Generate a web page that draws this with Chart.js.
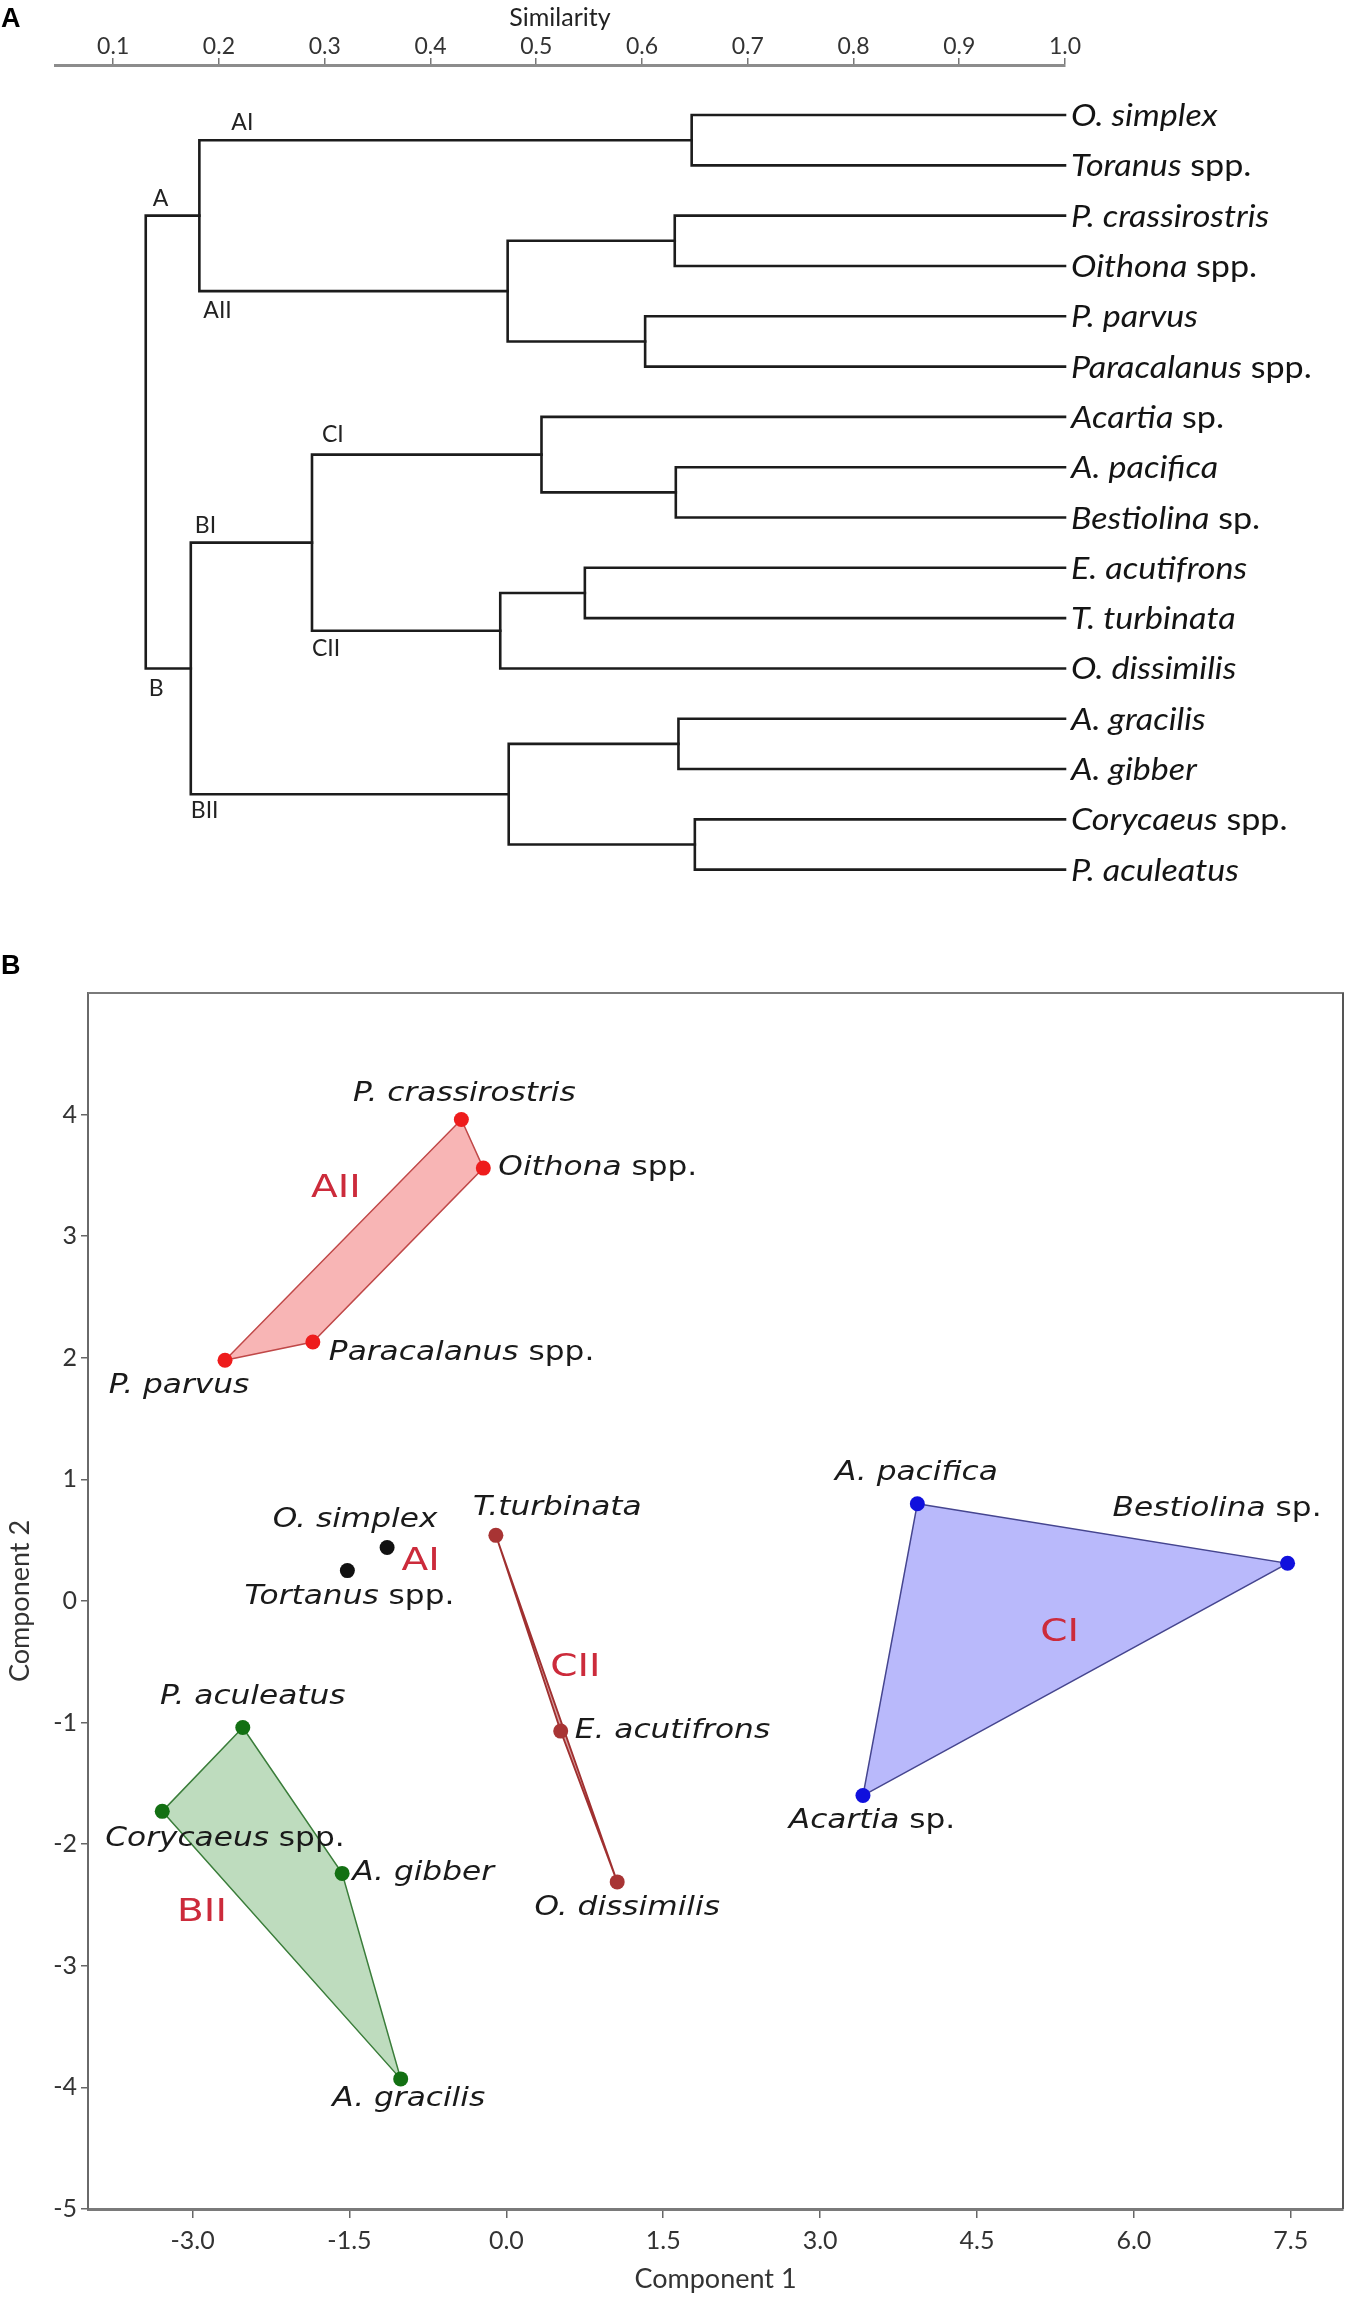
<!DOCTYPE html>
<html><head><meta charset="utf-8">
<script src="https://cdn.jsdelivr.net/npm/chart.js@4"></script>
<style>
html,body{margin:0;padding:0;background:#fff;}
#wrap{position:relative;width:1368px;height:2316px;overflow:hidden;}
#c1{position:absolute;left:0;top:0;}
#c2{position:absolute;left:0;top:930px;}
.panel{position:absolute;font:bold 27px "Liberation Sans",Arial,sans-serif;line-height:27px;color:#000;}
</style></head><body>
<div id="wrap">
<canvas id="c1" width="1368" height="925"></canvas>
<canvas id="c2" width="1368" height="1386"></canvas>
<div class="panel" style="left:1px;top:5px">A</div>
<div class="panel" style="left:1px;top:952px">B</div>
</div>
<script>
// ---------- Panel A data (dendrogram) ----------
const simTicks = [0.1,0.2,0.3,0.4,0.5,0.6,0.7,0.8,0.9,1.0];
const leaves = ['O. simplex','Toranus spp.','P. crassirostris','Oithona spp.','P. parvus','Paracalanus spp.','Acartia sp.','A. pacifica','Bestiolina sp.','E. acutifrons','T. turbinata','O. dissimilis','A. gracilis','A. gibber','Corycaeus spp.','P. aculeatus'];
// merges: ids 0..15 are leaves, merge k gets id 16+k
const mergeA   = [0, 2, 4, 17, 16, 7, 6, 9, 23, 22, 12, 14, 26, 25, 20];
const mergeB   = [1, 3, 5, 18, 19, 8, 21, 10, 11, 24, 13, 15, 27, 28, 29];
const mergeSim = [0.647, 0.631, 0.603, 0.473, 0.1815, 0.632, 0.505, 0.546, 0.466, 0.288, 0.6345, 0.650, 0.474, 0.1734, 0.1308];
const branchNames = ['AI','A','AII','B','BI','BII','CI','CII'];
const branchNodes = [16, 20, 19, 29, 25, 28, 22, 24];

// ---------- Panel B data (PCA) ----------
const speciesNames = ['P. crassirostris','Oithona spp.','Paracalanus spp.','P. parvus','O. simplex','Tortanus spp.','T.turbinata','E. acutifrons','O. dissimilis','A. pacifica','Bestiolina sp.','Acartia sp.','P. aculeatus','Corycaeus spp.','A. gibber','A. gracilis'];
const component1 = [-0.43,-0.22,-1.85,-2.69,-1.14,-1.52,-0.10,0.52,1.06,3.93,7.47,3.41,-2.52,-3.29,-1.57,-1.01];
const component2 = [3.96,3.56,2.13,1.98,0.44,0.25,0.54,-1.07,-2.31,0.80,0.31,-1.60,-1.04,-1.73,-2.24,-3.93];
const speciesGroup = ['AII','AII','AII','AII','AI','AI','CII','CII','CII','CI','CI','CI','BII','BII','BII','BII'];
const groupNames = ['AII','AI','CII','CI','BII'];
const hullAII = [3,0,1,2];
const hullCII = [6,7,8];
const hullCI  = [9,10,11];
const hullBII = [12,14,15,13];
const comp1Ticks = [-3,-1.5,0,1.5,3,4.5,6,7.5];
const comp2Ticks = [-5,-4,-3,-2,-1,0,1,2,3,4];

// ---------- helpers ----------
function splitName(n){
  const m = n.match(/^(.*?)( spp?\.)$/);
  return m ? [{t:m[1],it:true},{t:m[2],it:false}] : [{t:n,it:true}];
}
function drawParts(ctx, parts, x, y, align, sx, size, family, color){
  ctx.save();
  ctx.fillStyle = color; ctx.textBaseline = 'middle'; ctx.textAlign = 'left';
  const fonts = parts.map(p => (p.it ? 'italic ' : '') + size + 'px ' + family);
  const ws = parts.map((p,i) => { ctx.font = fonts[i]; return ctx.measureText(p.t).width; });
  const total = ws.reduce((a,b) => a+b, 0);
  ctx.translate(x, y); ctx.scale(sx, 1);
  let cx = align === 'left' ? 0 : align === 'center' ? -total/2 : -total;
  parts.forEach((p,i) => { ctx.font = fonts[i]; ctx.fillText(p.t, cx, 0); cx += ws[i]; });
  ctx.restore();
}

// ---------- build dendrogram ----------
const nLeaf = leaves.length;
const nodeX = [], nodeY = [], parentOf = [];
for (let i = 0; i < nLeaf; i++){ nodeX[i] = 1.0; nodeY[i] = i; }
mergeSim.forEach((s,k) => {
  const id = nLeaf + k, a = mergeA[k], b = mergeB[k];
  nodeX[id] = s; nodeY[id] = (nodeY[a] + nodeY[b]) / 2;
  parentOf[a] = id; parentOf[b] = id;
});
const dendroDatasets = mergeSim.map((s,k) => {
  const a = mergeA[k], b = mergeB[k];
  return {
    data: [{x:nodeX[a],y:nodeY[a]},{x:s,y:nodeY[a]},{x:s,y:nodeY[b]},{x:nodeX[b],y:nodeY[b]}],
    showLine: true, borderColor: '#1c1c1c', borderWidth: 2.6, pointRadius: 0,
    tension: 0, fill: false, clip: false, borderJoinStyle: 'miter', borderCapStyle: 'square'
  };
});
const branchStyle = [
  {dx:32,dy:-18},{dx:7,dy:-17},{dx:4,dy:19},{dx:3,dy:20},
  {dx:4,dy:-17},{dx:0,dy:16},{dx:10,dy:-20},{dx:0,dy:18}
];
const dendroText = {
  id: 'dendroText',
  afterDatasetsDraw(chart){
    const {ctx, scales:{x, y}} = chart;
    leaves.forEach((name,i) => {
      drawParts(ctx, splitName(name), x.getPixelForValue(1.0) + 6, y.getPixelForValue(i) + 1, 'left', 1.1, 31, 'Lato', '#141414');
    });
    ctx.save();
    ctx.fillStyle = '#222'; ctx.font = '23px Lato'; ctx.textAlign = 'left'; ctx.textBaseline = 'middle';
    branchNames.forEach((b,i) => {
      const id = branchNodes[i], p = parentOf[id];
      ctx.fillText(b, x.getPixelForValue(nodeX[p]) + branchStyle[i].dx, y.getPixelForValue(nodeY[id]) + branchStyle[i].dy);
    });
    ctx.restore();
  }
};

new Chart(document.getElementById('c1'), {
  type: 'scatter',
  data: { datasets: dendroDatasets },
  options: {
    responsive: false, animation: false, devicePixelRatio: 1,
    layout: { padding: { left: 55, right: 303, top: 0, bottom: 0 } },
    plugins: { legend: { display: false }, tooltip: { enabled: false } },
    scales: {
      x: {
        type: 'linear', position: 'top', min: 0.045, max: 1.0,
        afterBuildTicks: s => { s.ticks = simTicks.map(v => ({ value: v })); },
        afterFit: s => { s.height = 65; },
        ticks: { callback: v => Number(v).toFixed(1), font: { family: 'Lato', size: 23 }, color: '#333', padding: -2, maxRotation: 0, autoSkip: false },
        grid: { drawOnChartArea: false, drawTicks: true, tickLength: 7, color: '#777', lineWidth: 1.5 },
        border: { display: true, color: '#8c8c8c', width: 3 },
        title: { display: true, text: 'Similarity', font: { family: 'Lato', size: 25 }, color: '#222', padding: { top: 3, bottom: 0 } }
      },
      y: { type: 'linear', display: false, reverse: true, min: -0.995, max: 16.1 }
    }
  },
  plugins: [dendroText]
});

// ---------- build PCA chart ----------
const groupColor = { AII: '#ee1c1c', AI: '#111111', CII: '#a83434', CI: '#1010dd', BII: '#137013' };
const pt = i => ({ x: component1[i], y: component2[i] });
const pointSets = groupNames.map(g => ({
  data: speciesNames.map((n,i) => i).filter(i => speciesGroup[i] === g).map(pt),
  backgroundColor: groupColor[g], borderColor: groupColor[g], pointRadius: 7.5, pointBorderWidth: 0,
  showLine: false, order: 0
}));
function hullSet(idx, fillC, lineC, w){
  const d = idx.map(pt); d.push(pt(idx[0]));
  return { data: d, showLine: true, fill: 'shape', backgroundColor: fillC, borderColor: lineC, borderWidth: w, pointRadius: 0, tension: 0, order: 1 };
}
const hullSets = [
  hullSet(hullAII, 'rgba(240,90,90,0.45)', '#c04848', 1.5),
  hullSet(hullCI,  'rgba(80,80,245,0.40)', '#45458f', 1.5),
  hullSet(hullBII, 'rgba(40,140,40,0.30)', '#3a7d3a', 1.5),
  hullSet(hullCII, 'rgba(168,52,52,0.45)', '#a03030', 1.8)
];
// label placement styles (pixel offsets from the point)
const labelStyle = [
  {a:'center',dx:3,dy:-25},{a:'left',dx:15,dy:0},{a:'left',dx:16,dy:11},{a:'center',dx:-46,dy:26},
  {a:'center',dx:-32,dy:-27},{a:'center',dx:2,dy:27},{a:'left',dx:-23,dy:-27},{a:'left',dx:14,dy:0},
  {a:'center',dx:10,dy:26},{a:'center',dx:-1,dy:-30},{a:'right',dx:34,dy:-54},{a:'center',dx:9,dy:26},
  {a:'center',dx:10,dy:-30},{a:'left',dx:-57,dy:28},{a:'left',dx:10,dy:0},{a:'center',dx:8,dy:20}
];
const clusterAnchor = { AII:[-1.63,3.39], AI:[-0.82,0.32], CII:[0.66,-0.545], CI:[5.29,-0.257], BII:[-2.91,-2.56] };
const pcaText = {
  id: 'pcaText',
  beforeDatasetsDraw(chart){
    const {ctx, chartArea:a} = chart;
    ctx.save();
    ctx.strokeStyle = '#7a7a7a'; ctx.lineWidth = 2;
    ctx.beginPath();
    ctx.moveTo(a.left, a.top); ctx.lineTo(a.right, a.top); ctx.lineTo(a.right, a.bottom);
    ctx.stroke();
    ctx.strokeStyle = '#555'; ctx.beginPath(); ctx.moveTo(a.right, a.top); ctx.lineTo(a.right, a.bottom); ctx.stroke();
    ctx.restore();
  },
  afterDatasetsDraw(chart){
    const {ctx, scales:{x, y}} = chart;
    speciesNames.forEach((n,i) => {
      const s = labelStyle[i];
      drawParts(ctx, splitName(n), x.getPixelForValue(component1[i]) + s.dx, y.getPixelForValue(component2[i]) + s.dy, s.a, 1.2, 26, '"DejaVu Sans"', '#1a1a1a');
    });
    groupNames.forEach(g => {
      const p = clusterAnchor[g];
      drawParts(ctx, [{t:g,it:false}], x.getPixelForValue(p[0]), y.getPixelForValue(p[1]), 'center', 1.22, 32, '"DejaVu Sans"', '#cc2b3b');
    });
  }
};

new Chart(document.getElementById('c2'), {
  type: 'scatter',
  data: { datasets: pointSets.concat(hullSets) },
  options: {
    responsive: false, animation: false, devicePixelRatio: 1,
    layout: { padding: { left: 0, right: 25, top: 63, bottom: 0 } },
    plugins: { legend: { display: false }, tooltip: { enabled: false } },
    scales: {
      x: {
        type: 'linear', min: -4, max: 8,
        afterBuildTicks: s => { s.ticks = comp1Ticks.map(v => ({ value: v })); },
        afterFit: s => { s.height = 107; },
        ticks: { callback: v => Number(v).toFixed(1), font: { family: 'Lato', size: 25 }, color: '#333', padding: 8, maxRotation: 0, autoSkip: false },
        grid: { drawOnChartArea: false, tickLength: 9, color: '#666', lineWidth: 1.5 },
        border: { color: '#7a7a7a', width: 3 },
        title: { display: true, text: 'Component 1', font: { family: 'Lato', size: 27 }, color: '#333', padding: { top: 0, bottom: 21 } }
      },
      y: {
        type: 'linear', min: -5, max: 5,
        afterBuildTicks: s => { s.ticks = comp2Ticks.map(v => ({ value: v })); },
        afterFit: s => { s.width = 88; },
        ticks: { font: { family: 'Lato', size: 25 }, color: '#333', padding: 4, autoSkip: false },
        grid: { drawOnChartArea: false, tickLength: 7, color: '#666', lineWidth: 1.5 },
        border: { color: '#6a6a6a', width: 2 },
        title: { display: true, text: 'Component 2', font: { family: 'Lato', size: 27 }, color: '#333', padding: { top: 4, bottom: 0 } }
      }
    }
  },
  plugins: [pcaText]
});
</script>
</body></html>
